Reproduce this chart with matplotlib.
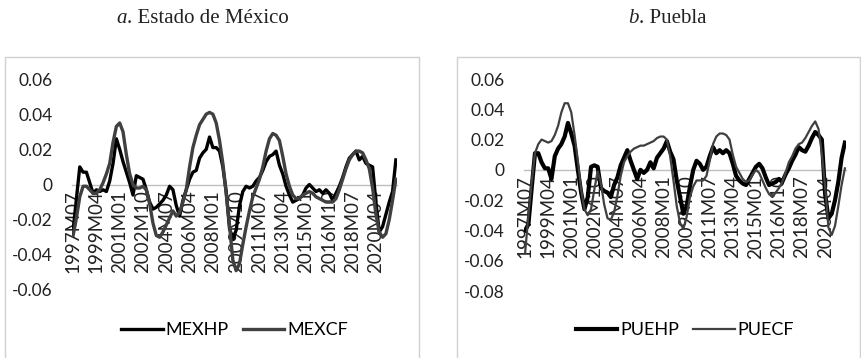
import numpy as np
import matplotlib
matplotlib.use('Agg')
import matplotlib.pyplot as plt
from matplotlib.patches import Rectangle

plt.rcParams['font.family'] = ['Lato', 'DejaVu Sans']

# monthly index from 1997M07, values read every quarter
months = np.arange(0, 292, 3)
tick_labels = ['1997M07', '1999M04', '2001M01', '2002M10', '2004M07', '2006M04', '2008M01',
               '2009M10', '2011M07', '2013M04', '2015M01', '2016M10', '2018M07', '2020M04']
tick_step = 21  # months between labels

mex_hp = [-0.026, -0.008, 0.010, 0.007, 0.007, 0.001, -0.005, -0.003, -0.004, -0.003,
          -0.004, 0.002, 0.012, 0.026, 0.020, 0.013, 0.007, 0.001, -0.006, 0.005,
          0.004, 0.003, -0.003, -0.010, -0.014, -0.013, -0.011, -0.009, -0.006, -0.001,
          -0.003, -0.012, -0.018, -0.009, -0.003, 0.003, 0.007, 0.008, 0.015, 0.018,
          0.020, 0.027, 0.021, 0.021, 0.019, 0.010, -0.004, -0.025, -0.031, -0.026,
          -0.012, -0.004, -0.001, -0.002, -0.001, 0.002, 0.004, 0.008, 0.013, 0.016,
          0.017, 0.019, 0.011, 0.006, -0.001, -0.006, -0.010, -0.009, -0.008, -0.006,
          -0.002, 0.000, -0.002, -0.004, -0.003, -0.005, -0.003, -0.005, -0.009, -0.005,
          -0.001, 0.004, 0.010, 0.015, 0.017, 0.019, 0.014, 0.016, 0.012, 0.011,
          0.010, -0.010, -0.027, -0.024, -0.017, -0.010, -0.004, 0.014]
mex_cf = [-0.029, -0.019, -0.007, -0.001, -0.001, -0.003, -0.005, -0.005, -0.003, 0.001,
          0.006, 0.012, 0.024, 0.033, 0.035, 0.030, 0.017, 0.006, 0.000, -0.002,
          -0.002, -0.001, -0.003, -0.011, -0.022, -0.029, -0.030, -0.027, -0.023, -0.019,
          -0.015, -0.018, -0.016, -0.010, -0.003, 0.010, 0.021, 0.028, 0.034, 0.037,
          0.040, 0.041, 0.040, 0.035, 0.025, 0.012, -0.005, -0.023, -0.043, -0.049,
          -0.045, -0.034, -0.024, -0.015, -0.007, -0.002, 0.003, 0.010, 0.019, 0.026,
          0.029, 0.028, 0.025, 0.016, 0.006, -0.001, -0.006, -0.008, -0.008, -0.006,
          -0.005, -0.004, -0.005, -0.007, -0.008, -0.009, -0.010, -0.010, -0.010, -0.008,
          -0.003, 0.003, 0.009, 0.014, 0.017, 0.019, 0.019, 0.018, 0.014, 0.009,
          -0.002, -0.017, -0.027, -0.030, -0.028, -0.020, -0.009, 0.003]
pue_hp = [-0.040, -0.036, -0.012, 0.011, 0.011, 0.005, 0.001, 0.001, -0.006, 0.009,
          0.014, 0.017, 0.022, 0.031, 0.024, 0.016, 0.000, -0.015, -0.026, -0.018,
          0.002, 0.003, 0.002, -0.012, -0.014, -0.015, -0.018, -0.010, -0.005, 0.003,
          0.008, 0.013, 0.006, 0.000, -0.006, 0.000, -0.002, 0.000, 0.005, 0.001,
          0.008, 0.011, 0.014, 0.019, 0.012, 0.007, -0.007, -0.018, -0.029, -0.024,
          -0.011, 0.000, 0.006, 0.004, 0.000, 0.002, 0.009, 0.015, 0.011, 0.013,
          0.011, 0.013, 0.011, 0.004, -0.004, -0.007, -0.009, -0.010, -0.006, -0.002,
          0.002, 0.004, 0.001, -0.005, -0.010, -0.009, -0.008, -0.006, -0.008, -0.003,
          0.001, 0.006, 0.010, 0.015, 0.013, 0.012, 0.016, 0.021, 0.025, 0.023,
          0.020, -0.016, -0.032, -0.029, -0.020, -0.008, 0.008, 0.018]
pue_cf = [-0.055, -0.030, -0.008, 0.011, 0.017, 0.020, 0.019, 0.018, 0.019, 0.023,
          0.029, 0.038, 0.044, 0.044, 0.038, 0.023, 0.006, -0.013, -0.026, -0.030,
          -0.026, -0.013, -0.001, -0.009, -0.023, -0.032, -0.033, -0.028, -0.017, -0.004,
          0.005, 0.009, 0.012, 0.014, 0.015, 0.016, 0.016, 0.017, 0.018, 0.019,
          0.021, 0.022, 0.022, 0.020, 0.009, -0.007, -0.024, -0.035, -0.039, -0.031,
          -0.018, -0.011, -0.007, -0.007, -0.007, -0.004, 0.006, 0.017, 0.022, 0.024,
          0.024, 0.023, 0.020, 0.010, 0.002, -0.002, -0.006, -0.008, -0.007, -0.003,
          0.000, -0.002, -0.007, -0.012, -0.016, -0.018, -0.015, -0.012, -0.008, -0.002,
          0.005, 0.009, 0.014, 0.017, 0.018, 0.021, 0.025, 0.029, 0.032, 0.027,
          0.011, -0.011, -0.038, -0.043, -0.037, -0.024, -0.010, 0.001]

yticks_mex = [-0.06, -0.04, -0.02, 0, 0.02, 0.04, 0.06]
yticks_pue = [-0.08, -0.06, -0.04, -0.02, 0, 0.02, 0.04, 0.06]


def lbl(v):
    return '0' if v == 0 else '%.2f' % v


fig = plt.figure(figsize=(8.61, 3.58), dpi=100)

# panel frames (excel chart boxes)
for x0, w in [(5, 414), (457, 403)]:
    fig.patches.append(Rectangle((x0 / 861, -0.1), w / 861, 1.1 - 57 / 358, transform=fig.transFigure,
                                 fill=False, edgecolor='#d0d0d0', lw=1))

# titles
tfont = dict(fontsize=15, family='Liberation Serif', va='center', color='#222222')
fig.text(0.147, 0.948, 'a', style='italic', ha='right', **tfont)
fig.text(0.147, 0.948, '. Estado de México', ha='left', **tfont)
fig.text(0.742, 0.948, 'b', style='italic', ha='right', **tfont)
fig.text(0.742, 0.948, '. Puebla', ha='left', **tfont)

panels = [
    (72, 325, 79, 290, mex_hp, mex_cf, 'MEXHP', 'MEXCF', yticks_mex, 2.4, 2.4),
    (524, 322, 79, 291, pue_hp, pue_cf, 'PUEHP', 'PUECF', yticks_pue, 3.0, 1.6),
]

for x0, w, ytop, ybot, hp, cf, nhp, ncf, yt, lw_hp, lw_cf in panels:
    ax = fig.add_axes([x0 / 861, 1 - ybot / 358, w / 861, (ybot - ytop) / 358])
    for s in ['top', 'right', 'left']:
        ax.spines[s].set_visible(False)
    # category axis crosses at zero like excel
    ax.spines['bottom'].set_position(('data', 0))
    ax.spines['bottom'].set_color('#bfbfbf')
    ax.spines['bottom'].set_linewidth(1)
    ax.spines['bottom'].set_zorder(0)

    ax.plot(months, hp, color='black', lw=lw_hp, label=nhp, solid_joinstyle='round')
    ax.plot(months, cf, color='#404040', lw=lw_cf, label=ncf)
    ax.set_xlim(-1, 292)
    ax.set_ylim(yt[0], yt[-1])
    ax.set_yticks(yt)
    ax.set_yticklabels([lbl(v) for v in yt])
    ax.set_xticks([i * tick_step for i in range(len(tick_labels))])
    ax.set_xticklabels(tick_labels, va='top', ha='center')
    ax.tick_params(axis='x', length=0, pad=4, labelsize=13.5, labelcolor='#222222', labelrotation=90)
    ax.tick_params(axis='y', length=0, pad=14, labelsize=12.5, labelcolor='#222222')
    ax.patch.set_alpha(0)
    ax.legend(loc='center', bbox_to_anchor=(0.5, (ybot - 330) / (ybot - ytop)),
              ncol=2, frameon=False, fontsize=13, handlelength=2.3, handletextpad=0.15, columnspacing=0.8)

fig.savefig('out.png', dpi=100)
